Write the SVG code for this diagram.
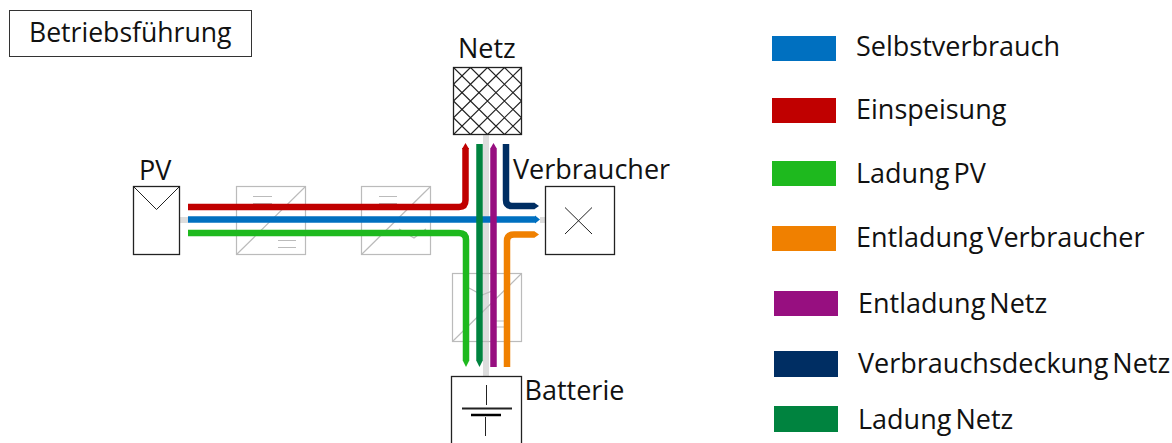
<svg xmlns="http://www.w3.org/2000/svg" width="1172" height="443" viewBox="0 0 1172 443">
<style>
text{font-family:"Open Sans","Noto Sans",sans-serif;font-size:27px;fill:#111}
#legend text{word-spacing:-3px}
.box{fill:#fff;stroke:#222;stroke-width:1.3}
.conv{fill:none;stroke:#bbb;stroke-width:1.2}
.thin{fill:none;stroke:#222;stroke-width:1}
.flow{fill:none;stroke-width:6.5}
.gray{fill:none;stroke:#ddd;stroke-width:6}
</style>
<g id="title"><rect x="9.500" y="10.500" width="242" height="46" fill="#fff" stroke="#333" stroke-width="1"/><text x="29" y="42" style="font-size:26.6px">Betriebsführung</text></g>
<g id="wires"><path class="gray" d="M180 220H188M540 220H546M486 134V376"/></g>
<g id="conv1"><rect class="conv" x="236.500" y="186.500" width="69" height="68"/><path class="conv" d="M236.500 254.500L305.500 186.500M253 196.500H272M253 203.500H272M278 240.500H296M278 247.500H296"/></g>
<g id="conv2"><rect class="conv" x="361.500" y="186.500" width="69" height="68"/><path class="conv" d="M361.500 254.500L430.500 186.500M379 196.500H397M379 203.500H397M399 229L414 238L426 229"/></g>
<g id="conv3"><rect class="conv" x="452.500" y="273.500" width="69" height="68"/><path class="conv" d="M452.500 341.500L521.500 273.500M469 288L482 295L492 291M495 321H510M495 327H510"/></g>
<g id="pv"><rect class="box" x="133.500" y="186.500" width="46" height="68"/><path class="thin" d="M133.500 186.500L156.500 209.500L179.500 186.500"/><text x="139" y="180">PV</text></g>
<g id="netz"><rect x="453.500" y="67.500" width="68" height="67" fill="#fff" stroke="#222" stroke-width="1.300"/><path fill="none" stroke="#222" stroke-width="1.100" d="M453.500 67.500L521.500 134.500M470.500 67.500L521.500 117.750M487.500 67.500L521.500 101M504.500 67.500L521.500 84.250M453.500 84.250L504.500 134.500M453.500 101L487.500 134.500M453.500 117.750L470.500 134.500M521.500 67.500L453.500 134.500M504.500 67.500L453.500 117.750M487.500 67.500L453.500 101M470.500 67.500L453.500 84.250M521.500 84.250L470.500 134.500M521.500 101L487.500 134.500M521.500 117.750L504.500 134.500"/><text x="458" y="58">Netz</text></g>
<g id="verbraucher"><rect class="box" x="545.500" y="186.500" width="69" height="68"/><path class="thin" d="M565 207.500L592 234M592 207.500L565 234"/><text x="513" y="179">Verbraucher</text></g>
<g id="batterie"><rect class="box" x="451.500" y="376.500" width="70" height="70"/><path class="thin" d="M486.500 385V405M485.500 417V436"/><path d="M462 408.500H512" stroke="#222" stroke-width="2" fill="none"/><path d="M471 415H501" stroke="#000" stroke-width="2.500" fill="none"/><text x="524.500" y="400">Batterie</text></g>
<g id="connectors">
<path class="flow" stroke="#c00000" d="M188 207H459Q465.500 207 465.500 200V148"/><path fill="#c00000" d="M462 149L465.500 143L469 149Z"/>
<path class="flow" stroke="#0070c0" d="M188 219.500H536"/><path fill="#0070c0" d="M535 215.500L540 219.500L535 223.500Z"/>
<path class="flow" stroke="#1eb91e" d="M188 233H459Q466 233 466 240V360"/><path fill="#1eb91e" d="M462.500 360L466 367L469.500 360Z"/>
<path class="flow" stroke="#00833f" stroke-width="7" d="M479.500 144V360"/><path fill="#00833f" d="M476 360L479.500 367L483 360Z"/>
<path class="flow" stroke="#970f80" stroke-width="7" d="M493.500 149V367"/><path fill="#970f80" d="M490 149L493.500 143L497 149Z"/>
<path class="flow" stroke="#002e63" d="M506 144V200Q506 206 512 206H534"/><path fill="#002e63" d="M534 202.500L539 206L534 209.500Z"/>
<path class="flow" stroke="#f08000" d="M507 367V241Q507 234.500 514 234.500H534"/><path fill="#f08000" d="M534 231L539 234.500L534 238Z"/>
</g>
<g id="legend">
<rect x="772" y="36" width="64" height="25" fill="#0070c0"/><text x="856" y="56">Selbstverbrauch</text>
<rect x="772" y="98" width="64" height="25" fill="#c00000"/><text x="856" y="119">Einspeisung</text>
<rect x="772" y="161" width="64" height="25" fill="#1eb91e"/><text x="856" y="183">Ladung PV</text>
<rect x="772" y="226" width="64" height="25" fill="#f08000"/><text x="856" y="247">Entladung Verbraucher</text>
<rect x="774" y="291" width="64" height="25" fill="#970f80"/><text x="858" y="313">Entladung Netz</text>
<rect x="774" y="351" width="64" height="26" fill="#002e63"/><text x="858" y="373">Verbrauchsdeckung Netz</text>
<rect x="774" y="406" width="64" height="26" fill="#00833f"/><text x="858" y="429">Ladung Netz</text>
</g>
</svg>
